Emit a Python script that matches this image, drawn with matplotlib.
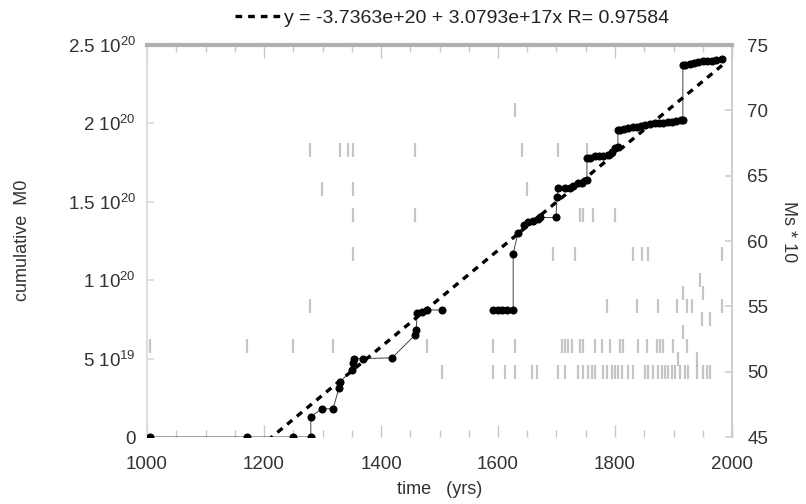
import numpy as np
import matplotlib.pyplot as plt

plt.rcParams['font.family'] = ['Liberation Sans', 'DejaVu Sans']
plt.rcParams['mathtext.fontset'] = 'custom'
plt.rcParams['mathtext.rm'] = 'Liberation Sans'
plt.rcParams['mathtext.it'] = 'Liberation Sans:italic'

# cumulative seismic moment (units of 1e20), NaN = break in the line
cum_year = [1005, 1171, 1249, 1280, 1280, 1299, 1318, 1328, 1330, 1350, 1352, 1354,
            1369, 1419, 1458, 1460, 1462, 1470, 1479, 1504, np.nan,
            1591, 1600, 1607, 1615, 1626, 1626, 1634, 1645, 1651, 1660, 1668, 1672,
            1699, 1701, 1703, 1715, 1723, 1728, 1737, 1744, 1752, 1752, 1758, 1765,
            1773, 1780, 1788, 1795, 1800, 1805, 1805, 1808, 1815, 1822, 1830, 1838,
            1845, 1852, 1860, 1868, 1875, 1882, 1890, 1898, 1905, 1912, 1916, 1916,
            1920, 1928, 1935, 1942, 1950, 1958, 1965, 1972, 1983]
cum_m0 = [0, 0, 0, 0, 0.13, 0.18, 0.18, 0.31, 0.35, 0.43, 0.47, 0.50,
          0.50, 0.505, 0.65, 0.68, 0.79, 0.80, 0.81, 0.81, np.nan,
          0.81, 0.81, 0.81, 0.81, 0.81, 1.17, 1.30, 1.35, 1.37, 1.38, 1.39, 1.40,
          1.40, 1.53, 1.59, 1.59, 1.59, 1.60, 1.62, 1.62, 1.64, 1.78, 1.78, 1.79,
          1.79, 1.79, 1.80, 1.82, 1.84, 1.85, 1.96, 1.96, 1.965, 1.97, 1.975, 1.98,
          1.985, 1.99, 1.995, 2.00, 2.00, 2.005, 2.01, 2.01, 2.015, 2.02, 2.02, 2.37,
          2.375, 2.38, 2.385, 2.39, 2.395, 2.40, 2.40, 2.405, 2.41]

# surface-wave magnitudes (Ms * 10) by year
ms_year = [1279, 1330, 1344, 1352, 1458, 1641, 1703, 1752,
           1629,
           1299, 1352, 1650,
           1352, 1458, 1740, 1745, 1762, 1800,
           1352, 1694, 1732, 1831, 1846, 1857, 1983,
           1945,
           1916, 1950,
           1279, 1786, 1838, 1874, 1906, 1923, 1932, 1983,
           1949, 1962,
           1916,
           1005, 1171, 1249, 1318, 1479, 1591, 1629, 1709, 1715, 1720, 1726, 1740,
           1745, 1766, 1778, 1791, 1809, 1814, 1839, 1855, 1872, 1877, 1882, 1899, 1923,
           1908, 1940,
           1504, 1591, 1612, 1629, 1658, 1667, 1703, 1715, 1737, 1745, 1754, 1761,
           1766, 1779, 1786, 1795, 1800, 1805, 1812, 1822, 1831, 1851, 1857, 1865,
           1874, 1880, 1886, 1891, 1897, 1903, 1911, 1920, 1925, 1940, 1950, 1957, 1962]
ms_val = ([67] * 8 + [70] + [64] * 3 + [62] * 6 + [59] * 7 + [57] + [56] * 2 +
          [55] * 8 + [54] * 2 + [53] + [52] * 25 + [51] * 2 + [50] * 37)

fit_a, fit_b, fit_r = -3.7363e+20, 3.0793e+17, 0.97584
fit_label = 'y = -3.7363e+20 + 3.0793e+17x R= 0.97584'

left_ticks = [0, 0.5e20, 1e20, 1.5e20, 2e20, 2.5e20]
left_labels = ['0', r'5 $10^{19}$', r'1 $10^{20}$', r'1.5 $10^{20}$', r'2 $10^{20}$', r'2.5 $10^{20}$']
right_ticks = [45, 50, 55, 60, 65, 70, 75]

fig = plt.figure(figsize=(8.06, 5.04), dpi=100)
ax = fig.add_axes([147 / 806, 1 - 437 / 504, 585 / 806, 392 / 504])
ax2 = ax.twinx()

ax2.plot(ms_year, ms_val, '|', color='#808080', alpha=0.45, ms=10, mew=1.6)
ax2.set_ylim(45, 75)
ax2.set_yticks(right_ticks)

yrs = np.array(cum_year, dtype=float)
m0 = np.array(cum_m0) * 1e20
ax.plot(yrs, m0, '-', color='#444444', lw=0.7, zorder=3)
ax.plot(yrs, m0, 'o', color='black', ms=4.8, zorder=4)

fx = np.array([np.nanmin(yrs), np.nanmax(yrs)])
line, = ax.plot(fx, fit_a + fit_b * fx, color='black', lw=2.4, dashes=(2.0, 1.8),
                zorder=5, label=fit_label)
ax.set_zorder(ax2.get_zorder() + 1)
ax.patch.set_visible(False)

ax.set_xlim(1000, 2000)
ax.set_ylim(0, 2.5e20)
ax.set_yticks(left_ticks)
ax.set_yticklabels(left_labels)
ax.set_xticks(range(1000, 2001, 200))
ax.set_xticks(range(1000, 2001, 50), minor=True)

for a in (ax, ax2):
    for s in a.spines.values():
        s.set_visible(False)
ax.spines['top'].set_visible(True)
ax.spines['top'].set_color('#b0b0b0')
ax.spines['top'].set_linewidth(3)
ax.spines['left'].set_visible(True)
ax.spines['left'].set_color('#dddddd')
ax.spines['left'].set_linewidth(1.5)
ax2.spines['right'].set_visible(True)
ax2.spines['right'].set_color('#d0d0d0')
ax2.spines['right'].set_linewidth(1.5)

ax.tick_params(axis='x', which='major', direction='in', length=9, width=1,
               color='#c8c8c8', top=True, labelsize=13.5, labelcolor='#333333', pad=14)
ax.tick_params(axis='x', which='minor', direction='in', length=5, width=1,
               color='#c8c8c8', top=True)
ax.tick_params(axis='y', direction='in', length=5, width=1.2, color='#d8d8d8',
               labelsize=13.5, labelcolor='#333333', pad=8)
ax2.tick_params(axis='y', direction='in', length=5, width=1.2, color='#d0d0d0',
                labelsize=13.5, labelcolor='#333333', pad=11)
ax.yaxis.get_major_ticks()[4].tick1line.set_color('#666666')

fig.text(23 / 806, 1 - 240 / 504, 'cumulative  M0', rotation=90, ha='center',
         va='center', fontsize=13, color='#333333')
fig.text(440 / 806, 1 - 490 / 504, 'time   (yrs)', ha='center', va='center',
         fontsize=13, color='#333333')
fig.text(789 / 806, 1 - 232 / 504, 'Ms * 10', rotation=270, ha='center',
         va='center', fontsize=13, color='#333333')

fig.legend(handles=[line], loc='center', bbox_to_anchor=(452 / 806, 1 - 18 / 504),
           frameon=False, fontsize=14, handlelength=2.4, handletextpad=0.1,
           borderpad=0, labelcolor='#222222')

fig.savefig('out.png', dpi=100)
